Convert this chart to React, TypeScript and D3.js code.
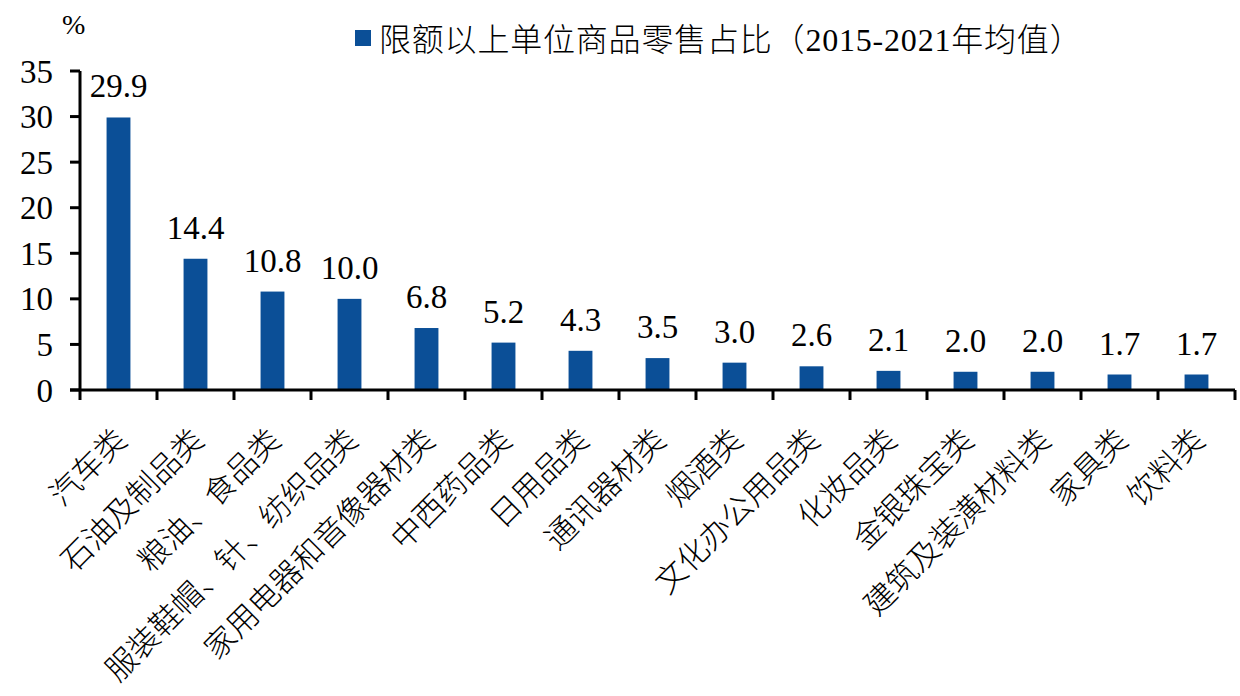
import React from "react";
import * as d3 from "d3";

const categories: string[] = [
  "汽车类",
  "石油及制品类",
  "粮油、食品类",
  "服装鞋帽、针、纺织品类",
  "家用电器和音像器材类",
  "中西药品类",
  "日用品类",
  "通讯器材类",
  "烟酒类",
  "文化办公用品类",
  "化妆品类",
  "金银珠宝类",
  "建筑及装潢材料类",
  "家具类",
  "饮料类",
];
const values: number[] = [29.9, 14.4, 10.8, 10.0, 6.8, 5.2, 4.3, 3.5, 3.0, 2.6, 2.1, 2.0, 2.0, 1.7, 1.7];
const yTicks: number[] = [0, 5, 10, 15, 20, 25, 30, 35];
const legendLabel = "限额以上单位商品零售占比（2015-2021年均值）";
const yUnit = "%";

const W = 1240;
const H = 696;
const left = 80;
const right = 1235;
const top = 71;
const bottom = 390;
const barColor = "#0b4f97";
const font = "'Liberation Serif', 'Times New Roman', 'Noto Sans CJK SC', serif";

export default function App() {
  const x = d3.scaleBand<string>().domain(categories).range([left, right]).paddingInner(0.69).paddingOuter(0.345);
  const xb = d3.scaleBand<string>().domain(categories).range([left, right]);
  const y = d3.scaleLinear().domain([0, 35]).range([bottom, top]);

  return (
    <svg width={W} height={H} style={{ position: "absolute", left: 0, top: 0, background: "#fff" }} fontFamily={font}>
      {/* unit */}
      <text x={62} y={34} fontSize={28} fill="#000">{yUnit}</text>
      {/* legend */}
      <rect x={355} y={30} width={16} height={16} fill={barColor} />
      <text x={379} y={51} fontSize={32} fontWeight={300} letterSpacing={0.8} fill="#000">{legendLabel}</text>

      {/* bars */}
      {categories.map((c, i) => (
        <rect key={c} x={x(c)} y={y(values[i])} width={x.bandwidth()} height={y(0) - y(values[i])} fill={barColor} />
      ))}
      {/* value labels */}
      {categories.map((c, i) => (
        <text key={"v" + c} x={(x(c) as number) + x.bandwidth() / 2} y={y(values[i]) - 20} fontSize={33} textAnchor="middle" fill="#000">
          {values[i].toFixed(1)}
        </text>
      ))}

      {/* y axis */}
      <line x1={left} x2={left} y1={top} y2={bottom} stroke="#000" strokeWidth={3} />
      {yTicks.map((t) => (
        <g key={"yt" + t}>
          <line x1={left - 10} x2={left} y1={y(t)} y2={y(t)} stroke="#000" strokeWidth={3} />
          <text x={53} y={y(t)} dy="0.35em" fontSize={33} textAnchor="end" fill="#000">{t}</text>
        </g>
      ))}

      {/* x axis */}
      <line x1={left - 10} x2={right} y1={bottom} y2={bottom} stroke="#000" strokeWidth={3} />
      {categories.map((c) => (
        <line key={"xt" + c} x1={xb(c)} x2={xb(c)} y1={bottom} y2={bottom + 10} stroke="#000" strokeWidth={3} />
      ))}
      <line x1={right} x2={right} y1={bottom} y2={bottom + 10} stroke="#000" strokeWidth={3} />

      {/* category labels */}
      {categories.map((c) => {
        const cx = (xb(c) as number) + xb.bandwidth() / 2 + 10;
        const cy = 442;
        return (
          <text key={"xl" + c} x={cx} y={cy} fontSize={31} fontWeight={300} textAnchor="end" fill="#000" transform={`rotate(-45, ${cx}, ${cy})`}>
            {c}
          </text>
        );
      })}
    </svg>
  );
}
